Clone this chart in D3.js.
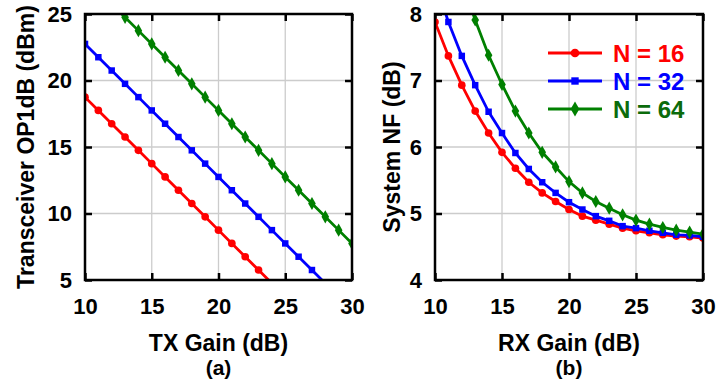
<!DOCTYPE html>
<html>
<head>
<meta charset="utf-8">
<script src="https://cdn.jsdelivr.net/npm/d3@7"></script>
<style>
  html, body { margin: 0; padding: 0; background: #fff; }
  svg { display: block; }
  text { font-family: "Liberation Sans", Arial, Helvetica, sans-serif; font-weight: bold; }
</style>
</head>
<body>
<svg id="chart" width="718" height="383"></svg>
<script>
// ---- data ----
const gain = [10, 11, 12, 13, 14, 15, 16, 17, 18, 19, 20, 21, 22, 23, 24, 25, 26, 27, 28, 29, 30];

// (a) Transceiver OP1dB (dBm) vs TX gain
const op1dB_N16 = [18.75, 17.75, 16.75, 15.75, 14.75, 13.75, 12.75, 11.75, 10.75, 9.75, 8.75, 7.75, 6.75, 5.75, 4.75, null, null, null, null, null, null];
const op1dB_N32 = [22.75, 21.75, 20.75, 19.75, 18.75, 17.75, 16.75, 15.75, 14.75, 13.75, 12.75, 11.75, 10.75, 9.75, 8.75, 7.75, 6.75, 5.75, 4.75, null, null];
const op1dB_N64 = [null, null, 25.75, 24.75, 23.75, 22.75, 21.75, 20.75, 19.75, 18.75, 17.75, 16.75, 15.75, 14.75, 13.75, 12.75, 11.75, 10.75, 9.75, 8.75, 7.75];

// (b) System NF (dB) vs RX gain
const nf_N16 = [7.88, 7.37, 6.93, 6.54, 6.21, 5.92, 5.68, 5.47, 5.31, 5.18, 5.06, 4.96, 4.90, 4.84, 4.78, 4.74, 4.71, 4.68, 4.66, 4.65, 4.63];
const nf_N32 = [8.50, 7.88, 7.37, 6.93, 6.53, 6.21, 5.91, 5.67, 5.47, 5.31, 5.17, 5.06, 4.96, 4.89, 4.81, 4.78, 4.74, 4.71, 4.68, 4.67, 4.65];
const nf_N64 = [10.0, 9.20, 8.50, 7.91, 7.38, 6.94, 6.54, 6.21, 5.92, 5.70, 5.48, 5.31, 5.18, 5.08, 4.98, 4.90, 4.84, 4.79, 4.75, 4.72, 4.69];

const seriesNames = ["N = 16", "N = 32", "N = 64"];
const seriesColors = ["#ff0000", "#0000ff", "#008000"];
const legendTextColors = ["#ff0000", "#0000ff", "#0b6b0b"];
const seriesSymbols = [d3.symbolCircle, d3.symbolSquare, d3.symbolDiamond];
const symbolSizes = [46, 42, 50];

const xTicks = [10, 15, 20, 25, 30];
const yTicksA = [5, 10, 15, 20, 25];
const yTicksB = [4, 5, 6, 7, 8];

// ---- drawing ----
const svg = d3.select("#chart");

function panel(opts) {
  const { left, right, top, bottom, xDomain, yDomain, yTicks, series, xTitle, subTitle, yTitle, yTitleX, id } = opts;
  const x = d3.scaleLinear().domain(xDomain).range([left, right]);
  const y = d3.scaleLinear().domain(yDomain).range([bottom, top]);
  const g = svg.append("g");

  svg.append("clipPath").attr("id", id).append("rect")
    .attr("x", left).attr("y", top).attr("width", right - left).attr("height", bottom - top);

  // gridlines
  g.append("g").selectAll("line.vx").data(xTicks.slice(1, -1)).join("line")
    .attr("x1", d => x(d)).attr("x2", d => x(d)).attr("y1", top).attr("y2", bottom)
    .attr("stroke", "#cccccc").attr("stroke-width", 1.3);
  g.append("g").selectAll("line.hy").data(yTicks.slice(1, -1)).join("line")
    .attr("y1", d => y(d)).attr("y2", d => y(d)).attr("x1", left).attr("x2", right)
    .attr("stroke", "#cccccc").attr("stroke-width", 1.3);

  // axes with inward ticks
  const tk = 7;
  const axB = g.append("g").attr("transform", `translate(0,${bottom})`)
    .call(d3.axisBottom(x).tickValues(xTicks).tickSize(-tk).tickPadding(18).tickFormat(d3.format("d")));
  const axT = g.append("g").attr("transform", `translate(0,${top})`)
    .call(d3.axisTop(x).tickValues(xTicks).tickSize(-tk).tickFormat(""));
  const axL = g.append("g").attr("transform", `translate(${left},0)`)
    .call(d3.axisLeft(y).tickValues(yTicks).tickSize(-tk).tickPadding(13).tickFormat(d3.format("d")));
  const axR = g.append("g").attr("transform", `translate(${right},0)`)
    .call(d3.axisRight(y).tickValues(yTicks).tickSize(-tk).tickFormat(""));
  [axB, axT, axL, axR].forEach(a => {
    a.select(".domain").remove();
    a.selectAll(".tick line").attr("stroke", "#000").attr("stroke-width", 2.5);
    a.selectAll(".tick text").attr("fill", "#000").style("font-size", "22px")
      .style("font-family", '"Liberation Sans", Arial, sans-serif').style("font-weight", "bold");
  });

  // series
  const plot = g.append("g").attr("clip-path", `url(#${id})`);
  series.forEach((vals, i) => {
    const pts = gain.map((gv, k) => ({ x: gv, y: vals[k] })).filter(p => p.y !== null);
    plot.append("path").datum(pts)
      .attr("fill", "none").attr("stroke", seriesColors[i]).attr("stroke-width", 2.8)
      .attr("d", d3.line().x(p => x(p.x)).y(p => y(p.y)));
    plot.selectAll(null).data(pts).join("path")
      .attr("transform", p => `translate(${x(p.x)},${y(p.y)})`)
      .attr("d", d3.symbol().type(seriesSymbols[i]).size(symbolSizes[i]))
      .attr("fill", seriesColors[i]);
  });

  // frame
  g.append("rect").attr("x", left).attr("y", top).attr("width", right - left).attr("height", bottom - top)
    .attr("fill", "none").attr("stroke", "#000").attr("stroke-width", 2.5);

  // titles
  const cx = (left + right) / 2;
  g.append("text").attr("x", cx).attr("y", 351).attr("text-anchor", "middle")
    .style("font-size", "23px").text(xTitle);
  g.append("text").attr("x", cx).attr("y", 375).attr("text-anchor", "middle")
    .style("font-size", "21px").text(subTitle);
  g.append("text").attr("transform", `translate(${yTitleX},${(top + bottom) / 2}) rotate(-90)`)
    .attr("text-anchor", "middle").style("font-size", "23px").text(yTitle);

  return { x, y, g };
}

panel({
  id: "clipA", left: 85, right: 352, top: 14, bottom: 280,
  xDomain: [10, 30], yDomain: [5, 25], yTicks: yTicksA,
  series: [op1dB_N16, op1dB_N32, op1dB_N64],
  xTitle: "TX Gain (dB)", subTitle: "(a)", yTitle: "Transceiver OP1dB (dBm)", yTitleX: 34
});

panel({
  id: "clipB", left: 435, right: 703, top: 14, bottom: 280,
  xDomain: [10, 30], yDomain: [4, 8], yTicks: yTicksB,
  series: [nf_N16, nf_N32, nf_N64],
  xTitle: "RX Gain (dB)", subTitle: "(b)", yTitle: "System NF (dB)", yTitleX: 400
});

// legend
const leg = svg.append("g");
seriesNames.forEach((name, i) => {
  const yy = 53 + i * 28;
  leg.append("line").attr("x1", 548).attr("x2", 602).attr("y1", yy).attr("y2", yy)
    .attr("stroke", seriesColors[i]).attr("stroke-width", 2.8);
  leg.append("path").attr("transform", `translate(575,${yy})`)
    .attr("d", d3.symbol().type(seriesSymbols[i]).size(symbolSizes[i] * 1.3))
    .attr("fill", seriesColors[i]);
  leg.append("text").attr("x", 613).attr("y", yy).attr("dy", "0.36em")
    .attr("fill", legendTextColors[i]).style("font-size", "24px").text(name);
});
</script>
</body>
</html>
